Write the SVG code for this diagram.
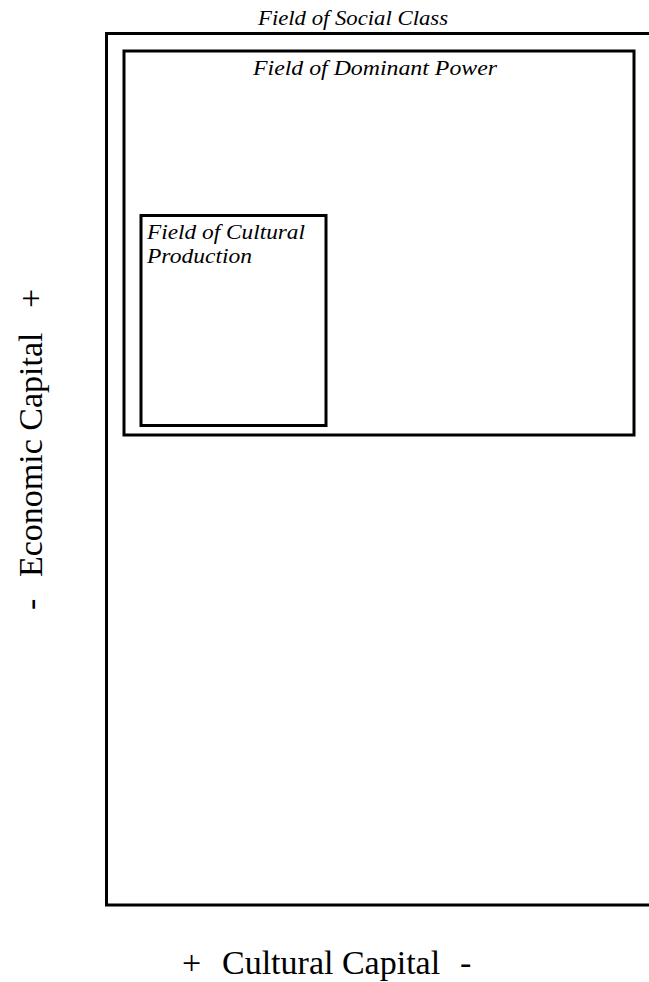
<svg xmlns="http://www.w3.org/2000/svg" width="649" height="982" viewBox="0 0 649 982">
<style>
.box{fill:none;stroke:#000;stroke-width:3}
.title{font-family:"Liberation Serif","Times New Roman",serif;font-style:italic;fill:#000}
.axis{font-family:"Liberation Serif","Times New Roman",serif;font-size:34px;fill:#000}
</style>
<rect x="0" y="0" width="649" height="982" fill="#fff"/>
<g id="field-social-class">
<rect class="box" x="106.5" y="33.5" width="560" height="871.5"/>
<text class="title" x="258" y="25" font-size="20" textLength="190" lengthAdjust="spacingAndGlyphs">Field of Social Class</text>
</g>
<g id="field-dominant-power">
<rect class="box" x="124" y="51" width="510" height="384"/>
<text class="title" x="253" y="75" font-size="22" textLength="244" lengthAdjust="spacingAndGlyphs">Field of Dominant Power</text>
</g>
<g id="field-cultural-production">
<rect class="box" x="141" y="215.5" width="185" height="210"/>
<text class="title" font-size="20"><tspan x="147" y="239" textLength="158" lengthAdjust="spacingAndGlyphs">Field of Cultural</tspan><tspan x="147" y="263" textLength="105" lengthAdjust="spacingAndGlyphs">Production</tspan></text>
</g>
<g id="connectors"/>
<g id="axis-economic">
<text class="axis" transform="translate(42,0) rotate(-90)"><tspan x="-610">-</tspan><tspan x="-577">Economic Capital</tspan><tspan x="-308">+</tspan></text>
</g>
<g id="axis-cultural">
<text class="axis" y="974"><tspan x="182">+</tspan><tspan x="222">Cultural Capital</tspan><tspan x="460">-</tspan></text>
</g>
</svg>
